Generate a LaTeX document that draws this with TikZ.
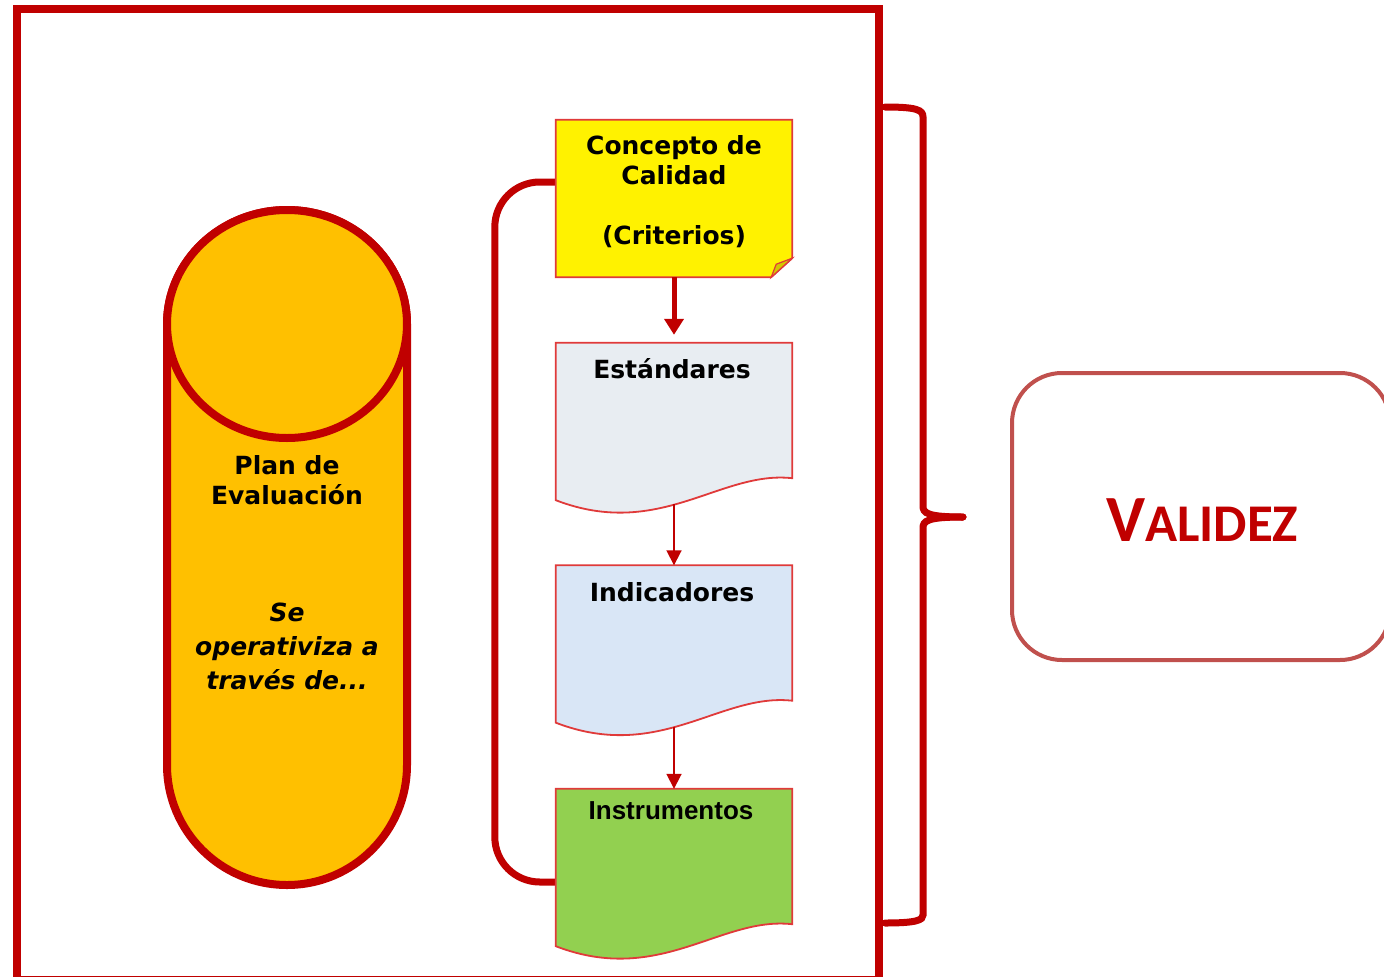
\documentclass[tikz,border=0pt]{standalone}
\usepackage{fontspec}
\setmainfont{DejaVu Sans}
\newfontfamily\arialfont{Liberation Sans}
\newfontfamily\calibfont{Carlito}
\usetikzlibrary{arrows.meta,calc}
\definecolor{dred}{HTML}{C00000}
\definecolor{cylfill}{HTML}{FFC000}
\definecolor{edgered}{HTML}{E03A3A}
\definecolor{valred}{HTML}{C0504D}
\definecolor{estfill}{HTML}{E8EDF2}
\definecolor{indfill}{HTML}{D9E6F6}
\definecolor{insfill}{HTML}{92D050}
\definecolor{foldfill}{HTML}{D4C800}
\newcommand{\mydocshape}[2]{\path[docline, fill=#2] (#1.north west) -- (#1.north east) -- (#1.south east) .. controls ($(#1.south east)+(-72,-8)$) and ($(#1.south west)+(104,62)$) .. ($(#1.south west)+(0,22)$) -- cycle;}
\begin{document}
\begin{tikzpicture}[x=1pt,y=-1pt,
  boxtxt/.style={font=\fontsize{25}{30}\selectfont\bfseries, align=center, inner sep=0},
  docnode/.style={minimum width=236, minimum height=135, inner sep=0},
  docline/.style={draw=edgered, line width=1.8},
  thinarrow/.style={draw=dred, line width=1.8, -{Triangle[length=15,width=15]}},
  thickarrow/.style={draw=dred, line width=5, -{Triangle[length=16,width=19]}},
  redline/.style={draw=dred, line width=7, line cap=round},
]
\useasboundingbox (0,0) rectangle (1384,977);
\fill[white] (0,0) rectangle (1384,977);

% outer frame
\draw[dred, line width=8] (16.5,8.5) rectangle (879,980);

% cylinder
\path[draw=dred, fill=cylfill, line width=8] (167,324) -- (167,765)
  arc[start angle=180, end angle=0, x radius=120, y radius=120] -- (407,324)
  arc[start angle=0, end angle=-180, x radius=120, y radius=114] -- cycle;
\path[draw=dred, fill=cylfill, line width=8] (287,324) ellipse [x radius=120, y radius=114];
\node[boxtxt] (plan) at (287,480) {Plan de\\Evaluación};
\node[boxtxt, font=\fontsize{25}{34}\selectfont\bfseries\itshape] (seop) at (287,646) {Se\\operativiza a\\través de...};

% node anchors
\node[minimum width=236, minimum height=157, inner sep=0] (concepto) at (674,198.5) {};
\node[docnode] (estandares) at (674,410.5) {};
\node[docnode] (indicadores) at (674,633) {};
\node[docnode] (instrumentos) at (674,856.5) {};

% left bracket
\draw[redline, line cap=butt, rounded corners=45] ($(concepto.west)+(0,-16.5)$) -- ++(-61,0) -- ++(0,700) -- ($(instrumentos.west)+(0,25.5)$);

% concepto box
\path[draw=edgered, fill=yellow, line width=1.8] (concepto.north west) -- (concepto.north east) -- ($(concepto.south east)+(0,-19)$) -- ($(concepto.south east)+(-21,0)$) -- (concepto.south west) -- cycle;
\path[draw=edgered, fill=foldfill, line width=1.2] ($(concepto.south east)+(0,-19)$) -- ($(concepto.south east)+(-16,-13)$) -- ($(concepto.south east)+(-21,0)$) -- cycle;
\node[boxtxt] (conceptot) at (674,192) {Concepto de\\Calidad\\[30pt](Criterios)};

% documents
\mydocshape{estandares}{estfill}
\mydocshape{indicadores}{indfill}
\mydocshape{instrumentos}{insfill}
\node[boxtxt] (estandarest) at (672,369) {Estándares};
\node[boxtxt] (indicadorest) at (672,592) {Indicadores};
\node[boxtxt, font=\arialfont\fontsize{26}{30}\selectfont\bfseries] (instrumentost) at (671,811) {Instrumentos};

\coordinate (estb) at ($(estandares.south)+(0,26)$);
\coordinate (indb) at ($(indicadores.south)+(0,26)$);

% arrows
\draw[thickarrow, shorten >=8] (concepto.south) -- (estandares.north);
\draw[thinarrow] (estb) -- (indicadores.north);
\draw[thinarrow] (indb) -- (instrumentos.north);

% right brace
\coordinate (bracetip) at (963,517);
\draw[redline] (885,107) .. controls (917,107) and (923,110) .. (923,117) -- (923,506) .. controls (923,513) and (927,517) .. (bracetip);
\draw[redline] (bracetip) .. controls (927,517) and (923,521) .. (923,528) -- (923,915) .. controls (923,920) and (917,923) .. (885,923);

% validez
\node[draw=valred, line width=4, rounded corners=50, minimum width=378, minimum height=287, inner sep=0] (validez) at (1201,516.5) {};
\node[text=dred, font=\calibfont\bfseries, inner sep=0] (validezt) at (1202,520) {\fontsize{66}{70}\selectfont V\fontsize{53}{60}\selectfont ALIDEZ};
\end{tikzpicture}
\end{document}
